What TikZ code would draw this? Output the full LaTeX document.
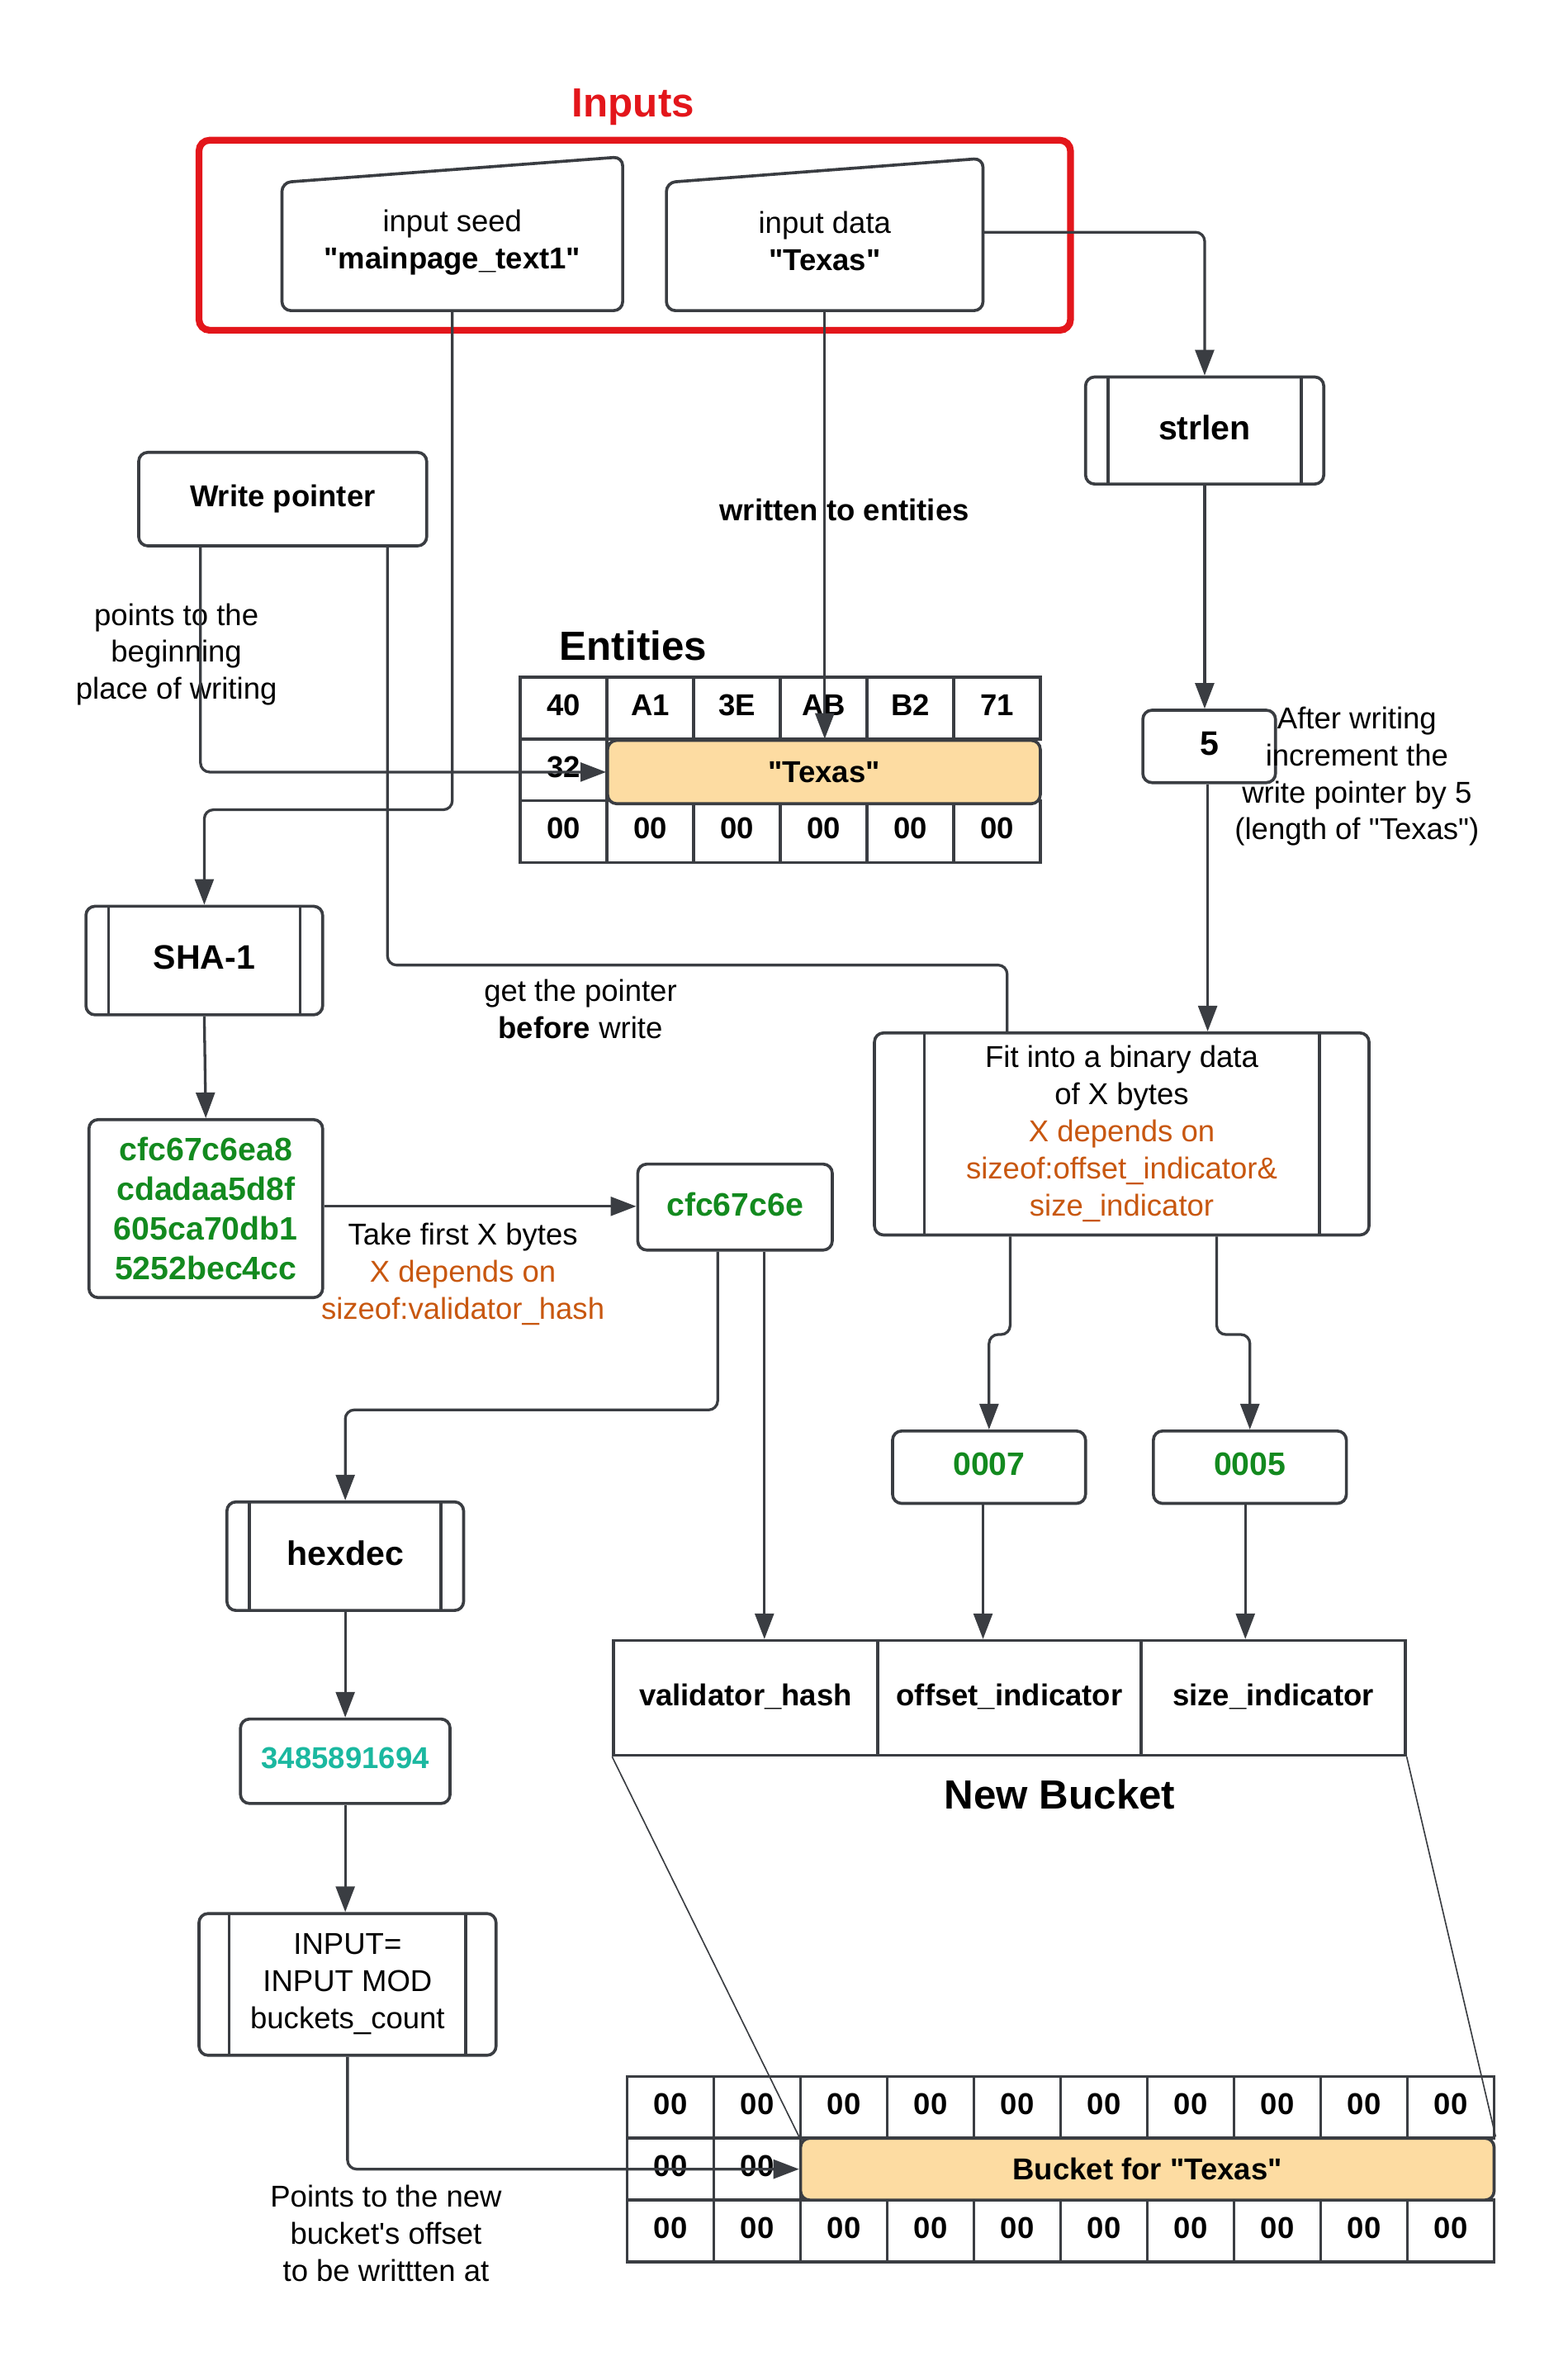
\documentclass[tikz,border=0pt]{standalone}
\usepackage{fontspec}
\setmainfont{Liberation Sans}[Ligatures=TeXOff]
\usetikzlibrary{arrows.meta,calc,positioning}
\definecolor{linec}{HTML}{3A3D42}
\definecolor{inred}{HTML}{E3161B}
\definecolor{hexgreen}{HTML}{138A1F}
\definecolor{decteal}{HTML}{1BB8A0}
\definecolor{noteorange}{HTML}{C8570F}
\definecolor{slotfill}{HTML}{FDDCA2}
\tikzset{box/.style={draw=linec,line width=2pt,rounded corners=6pt,inner sep=0pt,align=center,fill=white,
           text depth=4.2pt,font=\bfseries\fontsize{20}{24.5}\selectfont},
         wh/.style 2 args={minimum width=#1pt,minimum height=#2pt},
         proc/.style={box,font=\bfseries\fontsize{22.5}{27}\selectfont,path picture={\draw[linec,line width=2pt]
             ([xshift=#1]path picture bounding box.north west) -- ([xshift=#1]path picture bounding box.south west)
             ([xshift=-#1]path picture bounding box.north east) -- ([xshift=-#1]path picture bounding box.south east);}},
         proc/.default=15pt,
         slot/.style={box,fill=slotfill,text depth=0pt},
         cell/.style={draw=linec,line width=2pt,inner sep=0pt,minimum width=57.5pt,minimum height=41pt,
           text depth=4.2pt,font=\bfseries\fontsize{20}{24}\selectfont},
         field/.style={cell,minimum width=175pt,minimum height=76pt},
         note/.style={inner sep=0pt,align=center,font=\fontsize{20}{24.5}\selectfont},
         title/.style={inner sep=0pt,font=\bfseries\fontsize{27}{32}\selectfont},
         hexfont/.style={font=\bfseries\fontsize{21.5}{26.3}\selectfont,text=hexgreen},
         conn/.style={draw=linec,line width=1.8pt,rounded corners=6pt},
         arr/.style={conn,-{Triangle[length=17pt,width=12.5pt]}},
         shape line/.style={draw=linec,line width=2pt,rounded corners=6pt},
         thin line/.style={draw=linec,line width=0.9pt}}

\begin{document}
\begin{tikzpicture}[x=1pt,y=-1pt]
\useasboundingbox (0,0) rectangle (1040,1565.75);

% inputs
\node[title,text=inred] (intitle) at (420,71) {Inputs};
\node[draw=inred,line width=4.5pt,rounded corners=7pt,wh={578}{126}] (inframe) at (421,156) {};
\draw[shape line] (187,206) -- (187,121) -- (413,104) -- (413,206) -- cycle;
\draw[shape line] (442,206) -- (442,121) -- (652,105) -- (652,206) -- cycle;
\node[note,wh={226}{90}] (seed) at (300,161) {input seed\\\textbf{"mainpage\_text1"}};
\node[note,wh={210}{92}] (datain) at (547,160) {input data\\\textbf{"Texas"}};

% length branch
\node[proc,wh={158}{71}] (strlen) at (799,285.5) {strlen};
\node[box,wh={88}{48},font=\bfseries\fontsize{22.5}{27}\selectfont] (five) at (802,495) {5};
\node[note] (incnote) at (900,515) {After writing\\increment the\\write pointer by 5\\(length of "Texas")};

% write pointer
\node[box,wh={191}{62}] (wptr) at (187.5,331) {Write pointer};
\node[note] (ptnote) at (117,434) {points to the\\beginning\\place of writing};
\node[note,font=\bfseries\fontsize{20}{24.5}\selectfont] (wrnote) at (560,338) {written to entities};

% entities
\node[title] (enttitle) at (420,428) {Entities};
\foreach \v [count=\i] in {40,A1,3E,AB,B2,71}
  \node[cell] (ea\i) at ({345+57.5*(\i-0.5)},469.5) {\v};
\node[cell] (eb1) at (373.75,510.5) {32};
\foreach \i in {1,...,6}
  \node[cell] (ec\i) at ({345+57.5*(\i-0.5)},551.5) {00};
\node[slot,wh={287}{42}] (texas) at (546.5,512) {"Texas"};

% hash branch
\node[proc,wh={157}{72}] (sha) at (135.5,637) {SHA-1};
\node[box,wh={155}{118},hexfont,text depth=0pt] (hash) at (136.5,801.5) {cfc67c6ea8\\cdadaa5d8f\\605ca70db1\\5252bec4cc};
\node[box,wh={129}{57},hexfont] (cfc) at (487.5,800.5) {cfc67c6e};
\node[note] (takenote) at (307,845) {Take first X bytes\\\textcolor{noteorange}{X depends on}\\\textcolor{noteorange}{sizeof:validator\_hash}};
\node[note] (getnote) at (385,669) {get the pointer\\\textbf{before} write};

% fit into bytes
\node[proc=33pt,wh={328}{134},font=\fontsize{20}{24.75}\selectfont] (fit) at (744,752) {Fit into a binary data\\of X bytes\\\textcolor{noteorange}{X depends on}\\\textcolor{noteorange}{sizeof:offset\_indicator\&}\\\textcolor{noteorange}{size\_indicator}};
\node[box,wh={128}{48},hexfont] (o7) at (656,973) {0007};
\node[box,wh={128}{48},hexfont] (o5) at (829,973) {0005};

% new bucket
\node[field] (vh) at (494.5,1126) {validator\_hash};
\node[field] (oi) at (669.5,1126) {offset\_indicator};
\node[field] (si) at (844.5,1126) {size\_indicator};
\node[title] (nbtitle) at (703,1190) {New Bucket};

% bucket index
\node[proc,wh={157}{72}] (hexdec) at (229,1032) {hexdec};
\node[box,wh={139}{56},text=decteal] (dec) at (229,1168) {3485891694};
\node[proc=20pt,wh={197}{94},font=\fontsize{20}{24.5}\selectfont] (modbox) at (230.5,1316) {INPUT=\\INPUT MOD\\buckets\_count};
\node[note] (ofsnote) at (256,1481) {Points to the new\\bucket's offset\\to be writtten at};

% buckets
\foreach \i in {1,...,10} {
  \node[cell] (ba\i) at ({416+57.5*(\i-0.5)},1397.5) {00};
  \node[cell] (bc\i) at ({416+57.5*(\i-0.5)},1479.5) {00};
}
\node[cell] (bb1) at (444.75,1438.5) {00};
\node[cell] (bb2) at (502.25,1438.5) {00};
\node[slot,wh={460}{41}] (btexas) at (761,1438.5) {Bucket for "Texas"};

% connectors
\draw[arr] ([yshift=6pt]datain.east) -| (strlen.north);
\draw[arr] (strlen.south) -- (strlen.south |- five.north);
\draw[arr] ([xshift=-1pt]five.south) -- ([xshift=-1pt]five.south |- fit.north);
\draw[arr] ([xshift=-54.5pt]wptr.south) |- (texas.west);
\draw[conn] ([xshift=69.5pt]wptr.south) |- ([xshift=-76pt,yshift=44pt]fit.north) -- ([xshift=-76pt]fit.north);
\draw[arr] (datain.south) -- (datain.south |- texas.north);
\draw[arr] (seed.south) |- ([yshift=63pt]sha.north) -- (sha.north);
\draw[arr] (sha.south) -- (hash.north);
\draw[arr] ([yshift=1.5pt]hash.east) -- ([yshift=1.5pt]hash.east -| cfc.west);
\draw[arr] ([xshift=-11.5pt]cfc.south) |- ([yshift=60pt]hexdec.north) -- (hexdec.north);
\draw[arr] ([xshift=19.5pt]cfc.south) -- ([xshift=12.5pt]vh.north);
\draw[arr] ([xshift=-74pt]fit.south) -- ++(0,65) -| (o7.north);
\draw[arr] ([xshift=63pt]fit.south) -- ++(0,65) -| (o5.north);
\draw[arr] ([xshift=-4pt]o7.south) -- ([xshift=-17.5pt]oi.north);
\draw[arr] ([xshift=-3pt]o5.south) -- ([xshift=-18.5pt]si.north);
\draw[arr] (hexdec.south) -- (dec.north);
\draw[arr] (dec.south) -- (dec.south |- modbox.north);
\draw[arr] (modbox.south) |- (btexas.west);
\draw[thin line] (vh.south west) -- (btexas.north west);
\draw[thin line] (si.south east) -- (btexas.north east);
\end{tikzpicture}
\end{document}
